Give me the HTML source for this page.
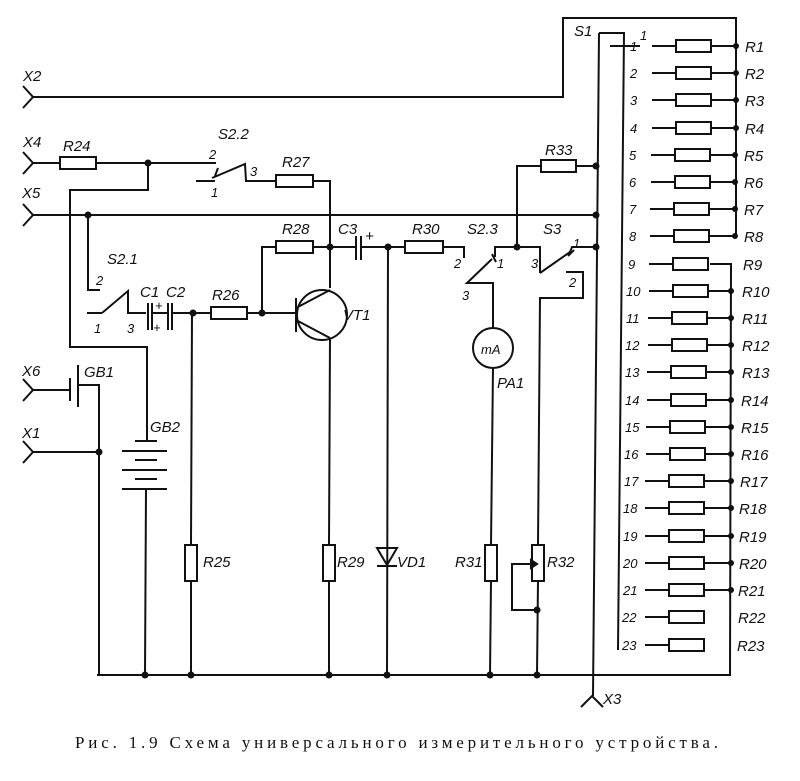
<!DOCTYPE html>
<html><head><meta charset="utf-8"><style>
html,body{margin:0;padding:0;background:#fff;}
svg{display:block;}
text{font-family:"Liberation Sans",sans-serif;font-style:italic;font-size:15px;fill:#111;}
.n{font-size:13px;}
.cap{font-family:"Liberation Serif",serif;font-style:normal;font-size:17px;}
</style></head><body>
<svg width="800" height="781" viewBox="0 0 800 781" xmlns="http://www.w3.org/2000/svg">
<g stroke="#111" stroke-width="2" fill="none">
<polyline points="23,86 33,97 23,108"/>
<polyline points="23,152 33,163 23,174"/>
<polyline points="23,204 33,215 23,226"/>
<polyline points="23,379 33,390 23,401"/>
<polyline points="23,441 33,452 23,463"/>
<polyline points="581,707 592,696 603,707"/>
<polyline points="33,97 563,97 563,18 736,18 736,236"/>
<line x1="33" y1="163" x2="60" y2="163"/>
<rect x="60" y="157" width="36" height="12"/>
<line x1="96" y1="163" x2="216" y2="163"/>
<polyline points="148,163 148,190 70,190 70,347 147,347 147,441"/>
<line x1="196" y1="181" x2="215" y2="181"/>
<line x1="215" y1="176" x2="218" y2="168"/>
<polyline points="212,178 245,164 246,181 276,181"/>
<rect x="276" y="175" width="37" height="12"/>
<polyline points="313,181 330,181 330,288"/>
<line x1="33" y1="215" x2="595" y2="215"/>
<polyline points="88,215 88,290 100,290"/>
<line x1="87" y1="313" x2="102" y2="313"/>
<polyline points="102,313 128,291 128,313 146,313"/>
<line x1="148" y1="303" x2="148" y2="330"/>
<line x1="152" y1="303" x2="152" y2="330"/>
<line x1="152" y1="313" x2="167" y2="313"/>
<line x1="168" y1="303" x2="168" y2="330"/>
<line x1="172" y1="303" x2="172" y2="330"/>
<line x1="172" y1="313" x2="211" y2="313"/>
<rect x="211" y="307" width="36" height="12"/>
<line x1="247" y1="313" x2="296" y2="313"/>
<polyline points="262,313 262,247 276,247"/>
<rect x="276" y="241" width="37" height="12"/>
<line x1="313" y1="247" x2="355" y2="247"/>
<circle cx="322" cy="315" r="25"/>
<line x1="296" y1="298" x2="296" y2="332"/>
<line x1="296" y1="308" x2="330" y2="290"/>
<line x1="296" y1="320" x2="330" y2="338"/>
<line x1="330" y1="338" x2="329" y2="545"/>
<rect x="323" y="545" width="12" height="36"/>
<line x1="329" y1="581" x2="329" y2="675"/>
<line x1="356" y1="236" x2="356" y2="260"/>
<line x1="361" y1="236" x2="361" y2="260"/>
<line x1="361" y1="247" x2="405" y2="247"/>
<rect x="405" y="241" width="38" height="12"/>
<polyline points="443,247 464,247 464,258"/>
<line x1="388" y1="247" x2="387" y2="675"/>
<polygon points="377,548 397,548 387,565"/>
<line x1="377" y1="566" x2="397" y2="566"/>
<line x1="192" y1="313" x2="191" y2="545"/>
<rect x="185" y="545" width="12" height="36"/>
<line x1="191" y1="581" x2="191" y2="675"/>
<line x1="33" y1="390" x2="70" y2="390"/>
<line x1="70" y1="378" x2="70" y2="401"/>
<line x1="78" y1="365" x2="78" y2="407"/>
<polyline points="78,385 99,385 99,675"/>
<line x1="33" y1="452" x2="99" y2="452"/>
<line x1="135" y1="441" x2="157" y2="441"/>
<line x1="122" y1="451" x2="167" y2="451"/>
<line x1="135" y1="460" x2="157" y2="460"/>
<line x1="122" y1="470" x2="167" y2="470"/>
<line x1="135" y1="479" x2="157" y2="479"/>
<line x1="122" y1="489" x2="167" y2="489"/>
<line x1="146" y1="489" x2="145" y2="675"/>
<polyline points="97,675 730,675 731,264 710,264"/>
<polyline points="595,166 575,166"/>
<rect x="541" y="160" width="35" height="12"/>
<polyline points="541,166 517,166 517,247"/>
<polyline points="495,257 495,247 540,247 540,273"/>
<line x1="492" y1="254" x2="496" y2="262"/>
<polyline points="492,259 467,283 493,283 493,328"/>
<circle cx="493" cy="348" r="20"/>
<line x1="493" y1="368" x2="491" y2="545"/>
<rect x="485" y="545" width="12" height="36"/>
<line x1="491" y1="581" x2="490" y2="675"/>
<polyline points="540,273 570,252 572,247 595,247"/>
<line x1="568" y1="256" x2="574" y2="250"/>
<polyline points="566,272 583,272 583,298 540,298 538,545"/>
<rect x="532" y="545" width="12" height="36"/>
<line x1="538" y1="581" x2="537" y2="675"/>
<polyline points="537,610 512,610 512,564 530,564"/>
<polygon points="531,560 531,568 537,564" fill="#111"/>
<polyline points="599,33 624,33 618,650"/>
<line x1="599" y1="33" x2="593" y2="696"/>
<line x1="610" y1="46" x2="640" y2="46"/>
</g>
<g fill="#111">
<circle cx="148" cy="163" r="3.5"/><circle cx="88" cy="215" r="3.5"/>
<circle cx="193" cy="313" r="3.5"/><circle cx="262" cy="313" r="3.5"/>
<circle cx="330" cy="247" r="3.5"/><circle cx="388" cy="247" r="3.5"/>
<circle cx="517" cy="247" r="3.5"/><circle cx="596" cy="166" r="3.5"/>
<circle cx="596" cy="215" r="3.5"/><circle cx="596" cy="247" r="3.5"/>
<circle cx="99" cy="452" r="3.5"/>
<circle cx="145" cy="675" r="3.5"/><circle cx="191" cy="675" r="3.5"/>
<circle cx="329" cy="675" r="3.5"/><circle cx="387" cy="675" r="3.5"/>
<circle cx="490" cy="675" r="3.5"/><circle cx="537" cy="675" r="3.5"/>
<circle cx="537" cy="610" r="3.5"/>
</g>
<g stroke="#111" stroke-width="2" fill="none">
<line x1="652" y1="46" x2="676" y2="46"/><rect x="676" y="40" width="35" height="12"/><line x1="711" y1="46" x2="736" y2="46"/>
<line x1="652" y1="73" x2="676" y2="73"/><rect x="676" y="67" width="35" height="12"/><line x1="711" y1="73" x2="736" y2="73"/>
<line x1="652" y1="100" x2="676" y2="100"/><rect x="676" y="94" width="35" height="12"/><line x1="711" y1="100" x2="736" y2="100"/>
<line x1="652" y1="128" x2="676" y2="128"/><rect x="676" y="122" width="35" height="12"/><line x1="711" y1="128" x2="736" y2="128"/>
<line x1="651" y1="155" x2="675" y2="155"/><rect x="675" y="149" width="35" height="12"/><line x1="710" y1="155" x2="735" y2="155"/>
<line x1="651" y1="182" x2="675" y2="182"/><rect x="675" y="176" width="35" height="12"/><line x1="710" y1="182" x2="735" y2="182"/>
<line x1="650" y1="209" x2="674" y2="209"/><rect x="674" y="203" width="35" height="12"/><line x1="709" y1="209" x2="735" y2="209"/>
<line x1="650" y1="236" x2="674" y2="236"/><rect x="674" y="230" width="35" height="12"/><line x1="709" y1="236" x2="735" y2="236"/>
<line x1="649" y1="264" x2="673" y2="264"/><rect x="673" y="258" width="35" height="12"/>
<line x1="649" y1="291" x2="673" y2="291"/><rect x="673" y="285" width="35" height="12"/><line x1="708" y1="291" x2="731" y2="291"/>
<line x1="648" y1="318" x2="672" y2="318"/><rect x="672" y="312" width="35" height="12"/><line x1="707" y1="318" x2="731" y2="318"/>
<line x1="648" y1="345" x2="672" y2="345"/><rect x="672" y="339" width="35" height="12"/><line x1="707" y1="345" x2="731" y2="345"/>
<line x1="647" y1="372" x2="671" y2="372"/><rect x="671" y="366" width="35" height="12"/><line x1="706" y1="372" x2="731" y2="372"/>
<line x1="647" y1="400" x2="671" y2="400"/><rect x="671" y="394" width="35" height="12"/><line x1="706" y1="400" x2="731" y2="400"/>
<line x1="646" y1="427" x2="670" y2="427"/><rect x="670" y="421" width="35" height="12"/><line x1="705" y1="427" x2="731" y2="427"/>
<line x1="646" y1="454" x2="670" y2="454"/><rect x="670" y="448" width="35" height="12"/><line x1="705" y1="454" x2="731" y2="454"/>
<line x1="645" y1="481" x2="669" y2="481"/><rect x="669" y="475" width="35" height="12"/><line x1="704" y1="481" x2="731" y2="481"/>
<line x1="645" y1="508" x2="669" y2="508"/><rect x="669" y="502" width="35" height="12"/><line x1="704" y1="508" x2="731" y2="508"/>
<line x1="645" y1="536" x2="669" y2="536"/><rect x="669" y="530" width="35" height="12"/><line x1="704" y1="536" x2="731" y2="536"/>
<line x1="645" y1="563" x2="669" y2="563"/><rect x="669" y="557" width="35" height="12"/><line x1="704" y1="563" x2="731" y2="563"/>
<line x1="645" y1="590" x2="669" y2="590"/><rect x="669" y="584" width="35" height="12"/><line x1="704" y1="590" x2="731" y2="590"/>
<line x1="645" y1="617" x2="669" y2="617"/><rect x="669" y="611" width="35" height="12"/>
<line x1="645" y1="645" x2="669" y2="645"/><rect x="669" y="639" width="35" height="12"/>
</g>
<g fill="#111">
<circle cx="736" cy="46" r="3"/><circle cx="736" cy="73" r="3"/><circle cx="736" cy="100" r="3"/><circle cx="736" cy="128" r="3"/><circle cx="735" cy="155" r="3"/><circle cx="735" cy="182" r="3"/><circle cx="735" cy="209" r="3"/><circle cx="735" cy="236" r="3"/>
<circle cx="731" cy="291" r="3"/><circle cx="731" cy="318" r="3"/><circle cx="731" cy="345" r="3"/><circle cx="731" cy="372" r="3"/><circle cx="731" cy="400" r="3"/><circle cx="731" cy="427" r="3"/><circle cx="731" cy="454" r="3"/><circle cx="731" cy="481" r="3"/><circle cx="731" cy="508" r="3"/><circle cx="731" cy="536" r="3"/><circle cx="731" cy="563" r="3"/><circle cx="731" cy="590" r="3"/>
</g>
<g>
<text x="630" y="51" class="n">1</text><text x="630" y="78" class="n">2</text><text x="630" y="105" class="n">3</text><text x="630" y="133" class="n">4</text><text x="629" y="160" class="n">5</text><text x="629" y="187" class="n">6</text><text x="629" y="214" class="n">7</text><text x="629" y="241" class="n">8</text><text x="628" y="269" class="n">9</text>
<text x="626" y="296" class="n">10</text><text x="626" y="323" class="n">11</text><text x="625" y="350" class="n">12</text><text x="625" y="377" class="n">13</text><text x="625" y="405" class="n">14</text><text x="625" y="432" class="n">15</text><text x="624" y="459" class="n">16</text><text x="624" y="486" class="n">17</text><text x="623" y="513" class="n">18</text><text x="623" y="541" class="n">19</text><text x="623" y="568" class="n">20</text><text x="623" y="595" class="n">21</text><text x="622" y="622" class="n">22</text><text x="622" y="650" class="n">23</text>
<text x="745" y="52">R1</text><text x="745" y="79">R2</text><text x="745" y="106">R3</text><text x="745" y="134">R4</text><text x="744" y="161">R5</text><text x="744" y="188">R6</text><text x="744" y="215">R7</text><text x="744" y="242">R8</text><text x="743" y="270">R9</text>
<text x="742" y="297">R10</text><text x="742" y="324">R11</text><text x="742" y="351">R12</text><text x="742" y="378">R13</text><text x="741" y="406">R14</text><text x="741" y="433">R15</text><text x="741" y="460">R16</text><text x="740" y="487">R17</text><text x="739" y="514">R18</text><text x="739" y="542">R19</text><text x="739" y="569">R20</text><text x="738" y="596">R21</text><text x="738" y="623">R22</text><text x="737" y="651">R23</text>
<text x="574" y="36">S1</text><text x="640" y="40" class="n">1</text>
<text x="23" y="81">X2</text><text x="23" y="147">X4</text><text x="22" y="198">X5</text>
<text x="22" y="376">X6</text><text x="22" y="438">X1</text><text x="603" y="704">X3</text>
<text x="63" y="151">R24</text><text x="218" y="139">S2.2</text>
<text x="209" y="159" class="n">2</text><text x="250" y="176" class="n">3</text><text x="211" y="197" class="n">1</text>
<text x="282" y="167">R27</text><text x="282" y="234">R28</text><text x="338" y="234">C3</text><text x="365" y="241">+</text>
<text x="412" y="234">R30</text><text x="467" y="234">S2.3</text><text x="543" y="234">S3</text>
<text x="545" y="155">R33</text>
<text x="454" y="268" class="n">2</text><text x="497" y="268" class="n">1</text><text x="462" y="300" class="n">3</text>
<text x="531" y="268" class="n">3</text><text x="573" y="248" class="n">1</text><text x="569" y="287" class="n">2</text>
<text x="107" y="264">S2.1</text><text x="96" y="285" class="n">2</text><text x="94" y="333" class="n">1</text><text x="127" y="333" class="n">3</text>
<text x="140" y="297">C1</text><text x="166" y="297">C2</text><text x="155" y="310" class="n">+</text><text x="153" y="332" class="n">+</text>
<text x="212" y="300">R26</text><text x="343" y="320">VT1</text>
<text x="481" y="354" class="n">mA</text><text x="497" y="388">PA1</text>
<text x="84" y="377">GB1</text><text x="150" y="432">GB2</text>
<text x="203" y="567">R25</text><text x="337" y="567">R29</text><text x="397" y="567">VD1</text>
<text x="455" y="567">R31</text><text x="547" y="567">R32</text>
<text x="75" y="748" class="cap" textLength="643">Рис. 1.9  Схема универсального измерительного устройства.</text>
</g>
</svg>
</body></html>
